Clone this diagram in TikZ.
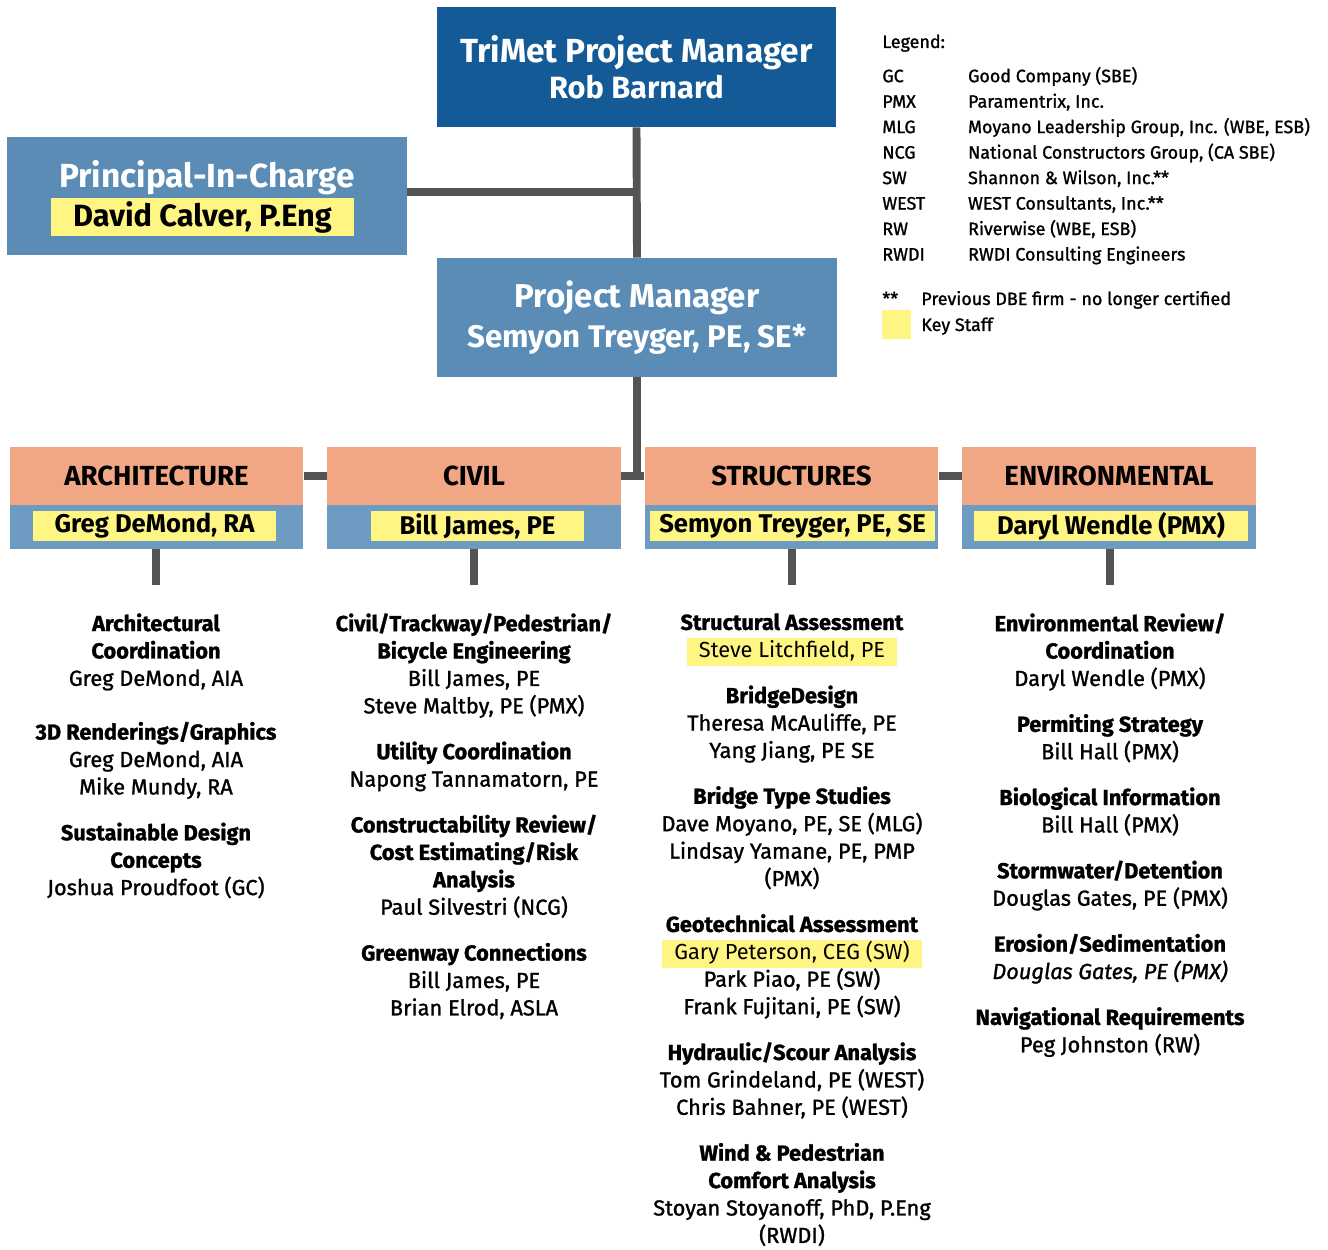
\documentclass[tikz,border=0pt]{standalone}
\usepackage{fontspec}
\setmainfont{Fira Sans}
\newfontfamily\namefont{Fira Sans}[FakeBold=1.2]
\usepackage{tikz}
\usetikzlibrary{calc}

\definecolor{trimetblue}{RGB}{19,90,150}
\definecolor{leadblue}{RGB}{90,140,182}
\definecolor{headorange}{RGB}{242,167,132}
\definecolor{staffblue}{RGB}{110,155,193}
\definecolor{keyyellow}{RGB}{255,245,130}
\definecolor{linkgrey}{RGB}{84,84,84}

\newcommand\keyname[1]{\smash{\setlength{\fboxsep}{0pt}\colorbox{keyyellow}{\strut\hspace{7pt}#1\hspace{7pt}}}}

\tikzset{
	leadbox/.style={text=white, inner sep=0pt, align=center, minimum width=8cm},
	depthead/.style={fill=headorange, inner sep=0pt, minimum width=5.88cm, minimum height=1.16cm, font=\fontsize{15.7}{18}\selectfont\bfseries},
	deptstaff/.style={fill=staffblue, inner sep=0pt, minimum width=5.88cm, minimum height=0.88cm},
	keystaff/.style={fill=keyyellow, inner sep=0pt, minimum height=0.6cm, font=\fontsize{14.6}{18}\selectfont\bfseries},
	link/.style={draw=linkgrey, line width=4.5pt},
	tasks/.style={anchor=north, inner sep=0pt, align=center, font=\fontsize{12.4}{15.6}\selectfont\namefont},
	legendtext/.style={anchor=base west, inner sep=0pt, font=\fontsize{10.2}{14.5}\selectfont\namefont},
}

\begin{document}
\begin{tikzpicture}[x=0.02cm, y=-0.02cm]
			%%%%% START %%%%%
			\useasboundingbox[fill=white] (0, 0) rectangle (1328, 1250);
			
			% top of the chart
			\node[leadbox, fill=trimetblue, minimum height=2.4cm, font=\bfseries] (trimet) at (636.5, 67)
				{\fontsize{19}{22.7}\selectfont TriMet Project Manager\\[2pt] \fontsize{17.5}{22.7}\selectfont Rob Barnard};
			\node[leadbox, fill=leadblue, minimum height=2.36cm] (pic) at (207, 196) {};
			\node[text=white, font=\fontsize{19}{22}\selectfont\bfseries] (pictitle) at (207, 178) {Principal-In-Charge};
			\node[keystaff, minimum width=6.06cm, minimum height=0.76cm, font=\fontsize{17.5}{20}\selectfont\bfseries] (picname) at (202.5, 217) {David Calver, P.Eng};
			\node[leadbox, fill=leadblue, minimum height=2.38cm, font=\bfseries] (pm) at (637, 317.5)
				{\fontsize{18.8}{22.7}\selectfont Project Manager\\[4pt] \fontsize{17.8}{22.7}\selectfont Semyon Treyger, PE, SE*};
			
			% departments
			\node[depthead] (archhead) at (156.5, 476) {ARCHITECTURE};
			\node[deptstaff] (archstaff) at (156.5, 527) {};
			\node[keystaff, minimum width=4.86cm] (archlead) at (154.5, 526) {Greg DeMond, RA};
			
			\node[depthead] (civhead) at (474, 476) {CIVIL};
			\node[deptstaff] (civstaff) at (474, 527) {};
			\node[keystaff, minimum width=4.26cm] (civlead) at (477.5, 526) {Bill James, PE};
			
			\node[depthead] (structhead) at (791.5, 476) {STRUCTURES};
			\node[deptstaff] (structstaff) at (791.5, 527) {};
			\node[keystaff, minimum width=5.7cm] (structlead) at (792.5, 526) {Semyon Treyger, PE, SE};
			
			\node[depthead] (envhead) at (1109, 476) {ENVIRONMENTAL};
			\node[deptstaff] (envstaff) at (1109, 527) {};
			\node[keystaff, minimum width=5.48cm] (envlead) at (1111, 526) {Daryl Wendle (PMX)};
			
			% connectors
			\draw[link] (trimet.south) -- (pm.north);
			\draw[link] ([yshift=2.3pt]pic.east) -- ([yshift=2.3pt]pic.east -| trimet.south);
			\draw[link] (pm.south) -- (pm.south |- structhead.west);
			\draw[link] (archhead.east) -- (civhead.west);
			\draw[link] (civhead.east) -- (structhead.west);
			\draw[link] (structhead.east) -- (envhead.west);
			
			\coordinate (archdrop) at (156, 585);
			\coordinate (civdrop) at (474, 585);
			\coordinate (structdrop) at (792, 585);
			\coordinate (envdrop) at (1110, 585);
			\draw[link] (archstaff.south -| archdrop) -- (archdrop);
			\draw[link] (civstaff.south -| civdrop) -- (civdrop);
			\draw[link] (structstaff.south -| structdrop) -- (structdrop);
			\draw[link] (envstaff.south -| envdrop) -- (envdrop);
			
			% tasks under each department
			\node[tasks] (archtasks) at (156, 613) {%
				\textbf{Architectural}\\ \textbf{Coordination}\\ Greg DeMond, AIA\\[15pt]
				\textbf{3D Renderings/Graphics}\\ Greg DeMond, AIA\\ Mike Mundy, RA\\[10.5pt]
				\textbf{Sustainable Design}\\ \textbf{Concepts}\\ Joshua Proudfoot (GC)};
			\node[tasks] (civtasks) at (474, 613) {%
				\textbf{Civil/Trackway/Pedestrian/}\\ \textbf{Bicycle Engineering}\\ Bill James, PE\\ Steve Maltby, PE (PMX)\\[10.5pt]
				\textbf{Utility Coordination}\\ Napong Tannamatorn, PE\\[10.5pt]
				\textbf{Constructability Review/}\\ \textbf{Cost Estimating/Risk}\\ \textbf{Analysis}\\ Paul Silvestri (NCG)\\[10.5pt]
				\textbf{Greenway Connections}\\ Bill James, PE\\ Brian Elrod, ASLA};
			\node[tasks] (structtasks) at (792, 613) {%
				\textbf{Structural Assessment}\\ \keyname{\normalfont\fontsize{12.4}{15.6}\selectfont Steve Litchfield, PE}\\[10.5pt]
				\textbf{BridgeDesign}\\ Theresa McAuliffe, PE\\ Yang Jiang, PE SE\\[10.5pt]
				\textbf{Bridge Type Studies}\\ Dave Moyano, PE, SE (MLG)\\ Lindsay Yamane, PE, PMP\\ (PMX)\\[10.5pt]
				\textbf{Geotechnical Assessment}\\ \keyname{\normalfont\fontsize{12.4}{15.6}\selectfont Gary Peterson, CEG (SW)}\\ Park Piao, PE (SW)\\ Frank Fujitani, PE (SW)\\[10.5pt]
				\textbf{Hydraulic/Scour Analysis}\\ Tom Grindeland, PE (WEST)\\ Chris Bahner, PE (WEST)\\[10.5pt]
				\textbf{Wind \& Pedestrian}\\ \textbf{Comfort Analysis}\\ Stoyan Stoyanoff, PhD, P.Eng\\ (RWDI)};
			\node[tasks] (envtasks) at (1110, 613) {%
				\textbf{Environmental Review/}\\ \textbf{Coordination}\\ Daryl Wendle (PMX)\\[10.5pt]
				\textbf{Permiting Strategy}\\ Bill Hall (PMX)\\[10.5pt]
				\textbf{Biological Information}\\ Bill Hall (PMX)\\[10.5pt]
				\textbf{Stormwater/Detention}\\ Douglas Gates, PE (PMX)\\[10.5pt]
				\textbf{Erosion/Sedimentation}\\ \textit{Douglas Gates, PE (PMX)}\\[10.5pt]
				\textbf{Navigational Requirements}\\ Peg Johnston (RW)};
			
			% legend
			\node[legendtext] (legendtitle) at (882, 48) {Legend:};
			\node[legendtext, anchor=north west] (legendrows) at (882, 64) {%
				\begin{tabular}{@{}p{48.8pt}@{}l@{}}
					GC & Good Company (SBE)\\
					PMX & Paramentrix, Inc.\\
					MLG & Moyano Leadership Group, Inc. (WBE, ESB)\\
					NCG & National Constructors Group, (CA SBE)\\
					SW & Shannon \& Wilson, Inc.**\\
					WEST & WEST Consultants, Inc.**\\
					RW & Riverwise (WBE, ESB)\\
					RWDI & RWDI Consulting Engineers
				\end{tabular}};
			\node[legendtext] (stars) at (882, 305) {**};
			\node[legendtext] (starsnote) at (921, 305) {Previous DBE firm - no longer certified};
			\node[fill=keyyellow, inner sep=0pt, minimum width=0.58cm, minimum height=0.58cm] (keyswatch) at (896.5, 324.5) {};
			\node[legendtext] (keynote) at (921, 331) {Key Staff};
			
			%%%%% END %%%%%
		\end{tikzpicture}
\end{document}
